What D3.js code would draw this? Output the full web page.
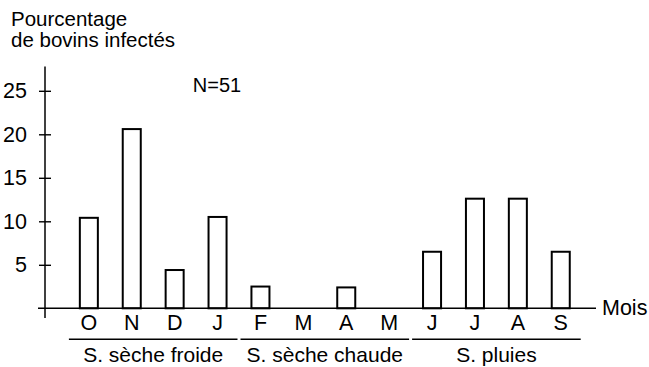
<!DOCTYPE html>
<html>
<head>
<meta charset="utf-8">
<script src="https://cdn.jsdelivr.net/npm/d3@7"></script>
<style>
  html, body { margin: 0; padding: 0; background: #fff; }
  svg { display: block; font-family: "Liberation Sans", Arial, Helvetica, sans-serif; }
</style>
</head>
<body>
<svg id="chart" width="649" height="367"></svg>
<script>
// ---- data ----
const months = ["O", "N", "D", "J", "F", "M", "A", "M", "J", "J", "A", "S"];
const values = [10.4, 20.6, 4.4, 10.5, 2.5, 0, 2.4, 0, 6.5, 12.6, 12.6, 6.5];
const yTicks = [5, 10, 15, 20, 25];
const seasonLabels = ["S. sèche froide", "S. sèche chaude", "S. pluies"];
const seasonFirst = [0, 4, 8];
const seasonLast = [3, 7, 11];
const titleLines = ["Pourcentage", "de bovins infectés"];
const note = "N=51";
const xTitle = "Mois";

// ---- layout ----
const svg = d3.select("#chart");
const axisX = 45, baseY = 308.3;
const fs = 21.5;

const x = d3.scaleBand()
  .domain(d3.range(months.length))
  .range([67.4, 582.2])
  .paddingInner(0.58)
  .paddingOuter(0.29);

const y = d3.scaleLinear().domain([0, 25]).range([baseY, 90.8]);

// title (two lines)
svg.append("g").selectAll("text")
  .data(titleLines).join("text")
  .attr("x", 11)
  .attr("y", (d, i) => 26 + i * 21)
  .attr("font-size", 20.5)
  .text(d => d);

// N=51
svg.append("text")
  .attr("x", 217).attr("y", 92)
  .attr("text-anchor", "middle")
  .attr("font-size", 20)
  .text(note);

// y axis
const yAxis = svg.append("g")
  .attr("transform", `translate(${axisX},0)`)
  .call(d3.axisLeft(y).tickValues(yTicks).tickSize(6).tickPadding(12));
yAxis.select(".domain").remove();
yAxis.selectAll(".tick line").attr("x1", 6).attr("x2", -6).attr("stroke", "#000").attr("stroke-width", 1.4);
yAxis.selectAll(".tick text").attr("font-size", fs).attr("fill", "#000").attr("font-family", null);
svg.append("line")
  .attr("x1", axisX).attr("x2", axisX)
  .attr("y1", 66.5).attr("y2", 318)
  .attr("stroke", "#000").attr("stroke-width", 1.5);

// bars
svg.append("g").selectAll("rect")
  .data(values.map((v, i) => ({ v, i })).filter(d => d.v > 0))
  .join("rect")
  .attr("x", d => x(d.i))
  .attr("width", x.bandwidth())
  .attr("y", d => y(d.v))
  .attr("height", d => y(0) - y(d.v))
  .attr("fill", "#fff")
  .attr("stroke", "#000")
  .attr("stroke-width", 2);

// x axis baseline
svg.append("line")
  .attr("x1", 38).attr("x2", 596)
  .attr("y1", baseY).attr("y2", baseY)
  .attr("stroke", "#000").attr("stroke-width", 1.6);

// month labels
const xAxis = svg.append("g")
  .attr("transform", `translate(0,${baseY})`)
  .call(d3.axisBottom(x).tickFormat(i => months[i]).tickSize(0).tickPadding(6.4));
xAxis.select(".domain").remove();
xAxis.selectAll(".tick text").attr("font-size", fs).attr("fill", "#000").attr("font-family", null);

// x title
svg.append("text")
  .attr("x", 602).attr("y", 315)
  .attr("font-size", fs)
  .text(xTitle);

// season brackets
const step = x.step();
const seasons = seasonLabels.map((label, k) => ({
  label,
  x0: x(seasonFirst[k]) - (step - x.bandwidth()) / 2 + 1.5,
  x1: x(seasonLast[k]) + x.bandwidth() + (step - x.bandwidth()) / 2 - 1.5
}));
svg.append("g").selectAll("line")
  .data(seasons).join("line")
  .attr("x1", d => d.x0).attr("x2", d => d.x1)
  .attr("y1", 339.3).attr("y2", 339.3)
  .attr("stroke", "#000").attr("stroke-width", 1.5);
svg.append("g").selectAll("text")
  .data(seasons).join("text")
  .attr("x", d => (d.x0 + d.x1) / 2)
  .attr("y", 361.5)
  .attr("text-anchor", "middle")
  .attr("font-size", 21)
  .text(d => d.label);
</script>
</body>
</html>
